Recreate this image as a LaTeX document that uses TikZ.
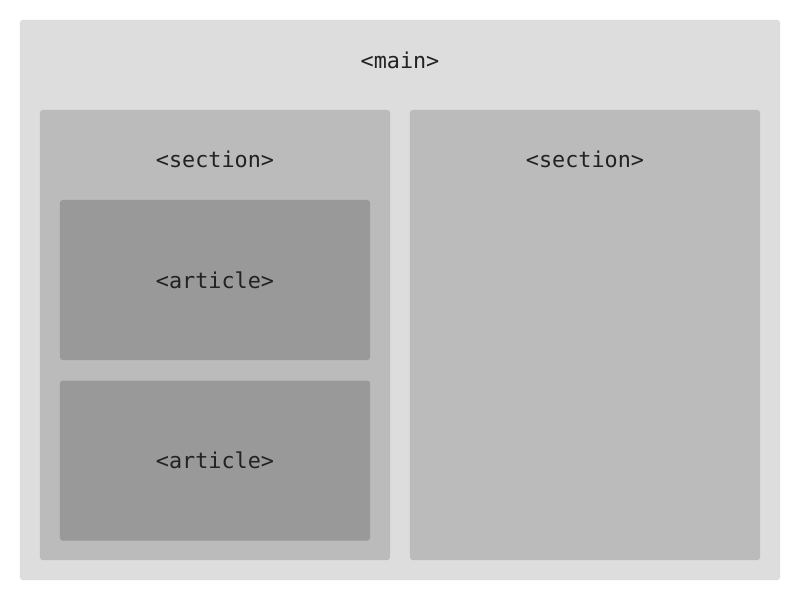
\documentclass[tikz,border=0pt]{standalone}
\usepackage{fontspec}
\setmonofont{DejaVu Sans Mono}
\usepackage{tikz}
\usetikzlibrary{positioning}
\definecolor{mainfill}{HTML}{DDDDDD}
\definecolor{sectionfill}{HTML}{BBBBBB}
\definecolor{articlefill}{HTML}{999999}
\definecolor{tagtext}{HTML}{222222}
\tikzset{
	box/.style={rectangle, rounded corners=2pt, inner sep=0pt, draw=none},
	mainbox/.style={box, fill=mainfill},
	sectionbox/.style={box, fill=sectionfill, minimum width=8.75cm},
	articlebox/.style={box, fill=articlefill, minimum width=7.75cm, minimum height=4cm},
	tag/.style={font=\ttfamily\fontsize{15.5}{18}\selectfont, text=tagtext, inner sep=0pt}
}

\begin{document}
\begin{tikzpicture}[x=0.025cm, y=-0.025cm]
		%%%%% START %%%%%
		
		\useasboundingbox[fill=white] (0, 0) rectangle (800, 600);
		
		\node[mainbox, minimum width=19cm, minimum height=14cm] (main) at (400, 300) {};
		\node[tag] (maintag) at (400, 60) {<main>};
		
		\node[sectionbox, minimum height=11.25cm] (secleft) at (215, 335) {};
		\node[tag] (seclefttag) at (215, 159) {<section>};
		\node[sectionbox, minimum height=11.25cm] (secright) at (585, 335) {};
		\node[tag] (secrighttag) at (585, 159) {<section>};
		
		\node[articlebox] (arttop) at (215, 280) {};
		\node[tag] at (arttop) {<article>};
		\node[articlebox, below=0.5cm of arttop] (artbot) {};
		\node[tag] at (artbot) {<article>};
		
		%%%%% END %%%%%
	\end{tikzpicture}
\end{document}
